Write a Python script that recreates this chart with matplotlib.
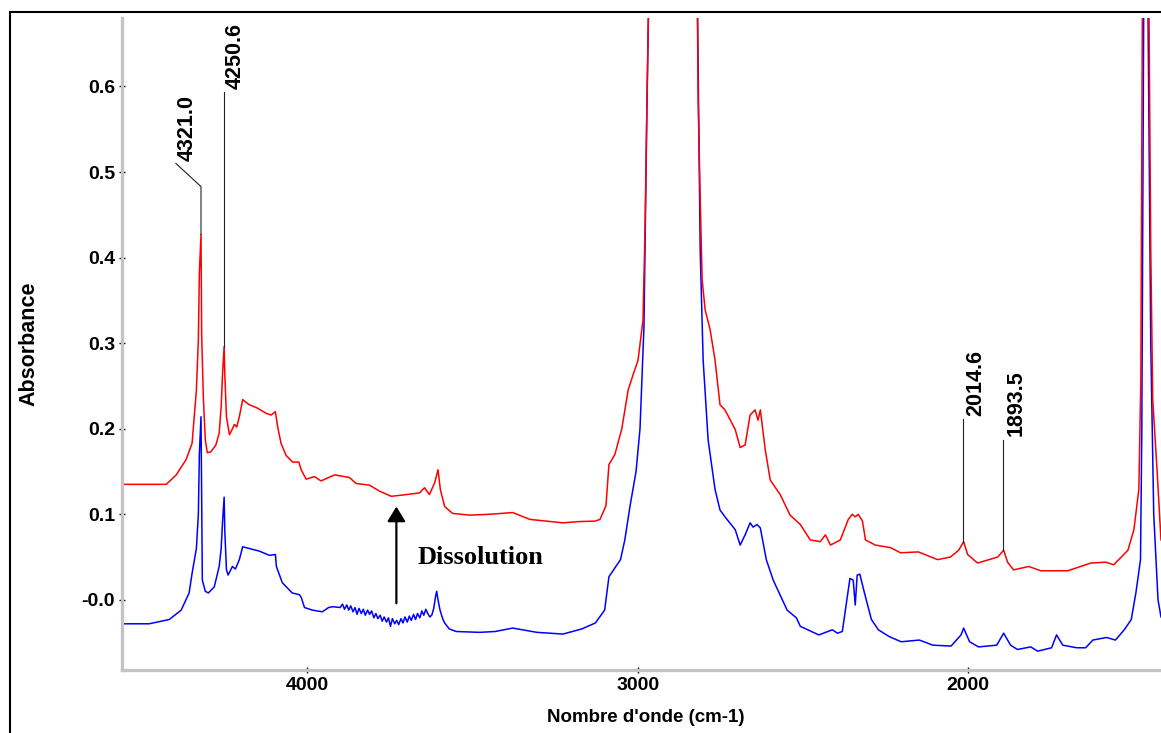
import matplotlib
matplotlib.use('Agg')
import matplotlib.pyplot as plt
from matplotlib.lines import Line2D
from matplotlib.ticker import FixedLocator, MultipleLocator, FixedFormatter

plt.rcParams['font.family'] = ['Liberation Sans', 'DejaVu Sans']
plt.rcParams['font.weight'] = 'bold'

# ---------------- data (wavenumber cm-1, absorbance) ----------------
red_wn = [4560, 4478, 4426, 4396, 4366, 4348, 4335, 4329, 4326, 4321,
          4319, 4314, 4308, 4302, 4291, 4276, 4266, 4260, 4256, 4251,
          4249, 4244, 4235, 4227, 4220, 4213, 4205, 4195, 4175, 4150,
          4124, 4109, 4096, 4089, 4079, 4064, 4044, 4025, 4018, 4003,
          3978, 3958, 3917, 3872, 3852, 3811, 3781, 3745, 3700, 3660,
          3645, 3630, 3614, 3604, 3597, 3584, 3560, 3508, 3448, 3378,
          3326, 3226, 3175, 3129, 3114, 3096, 3087, 3069, 3048, 3029,
          3014, 2999, 2984, 2978, 2972, 2966, 2950, 2900, 2860, 2830,
          2820, 2817, 2811, 2805, 2796, 2781, 2766, 2751, 2736, 2705,
          2690, 2675, 2660, 2645, 2636, 2629, 2614, 2599, 2569, 2539,
          2508, 2478, 2448, 2432, 2417, 2387, 2363, 2351, 2342, 2333,
          2320, 2311, 2281, 2235, 2205, 2151, 2093, 2054, 2029, 2014,
          2002, 1972, 1911, 1893, 1881, 1863, 1817, 1781, 1699, 1629,
          1584, 1560, 1517, 1499, 1484, 1478, 1473, 1465, 1454, 1448,
          1442, 1429, 1417]
red_abs = [0.135, 0.135, 0.135, 0.146, 0.164, 0.183, 0.245, 0.304, 0.382, 0.427,
           0.31, 0.237, 0.187, 0.172, 0.173, 0.181, 0.195, 0.226, 0.263, 0.296,
           0.263, 0.214, 0.193, 0.199, 0.205, 0.202, 0.214, 0.234, 0.228, 0.224,
           0.218, 0.216, 0.22, 0.202, 0.183, 0.169, 0.161, 0.161, 0.152, 0.141,
           0.144, 0.139, 0.146, 0.143, 0.136, 0.134, 0.127, 0.121, 0.123, 0.125,
           0.131, 0.123, 0.137, 0.152, 0.129, 0.109, 0.101, 0.099, 0.1, 0.102,
           0.094, 0.09, 0.0915, 0.092, 0.094, 0.11, 0.158, 0.17, 0.2, 0.245,
           0.263, 0.28, 0.327, 0.43, 0.58, 0.72, 1.0, 1.2, 1.1, 0.9,
           0.72, 0.58, 0.47, 0.374, 0.339, 0.316, 0.28, 0.228, 0.222, 0.199,
           0.178, 0.181, 0.216, 0.222, 0.21, 0.222, 0.175, 0.14, 0.123, 0.099,
           0.088, 0.07, 0.068, 0.076, 0.064, 0.07, 0.094, 0.1, 0.097, 0.1,
           0.092, 0.07, 0.064, 0.061, 0.055, 0.056, 0.047, 0.05, 0.058, 0.068,
           0.053, 0.043, 0.05, 0.058, 0.044, 0.035, 0.039, 0.034, 0.034, 0.043,
           0.044, 0.041, 0.058, 0.082, 0.129, 0.257, 0.72, 1.0, 0.72, 0.41,
           0.234, 0.152, 0.07]

blue_wn = [4560, 4478, 4417, 4381, 4357, 4348, 4335, 4329, 4326, 4321,
           4319, 4317, 4308, 4299, 4281, 4266, 4260, 4256, 4251, 4249,
           4244, 4239, 4226, 4217, 4205, 4195, 4175, 4145, 4114, 4096,
           4093, 4075, 4045, 4023, 4017, 4008, 3984, 3954, 3935, 3923,
           3900, 3893, 3887, 3880, 3874, 3868, 3861, 3855, 3849, 3843,
           3836, 3830, 3824, 3817, 3811, 3805, 3798, 3792, 3786, 3779,
           3773, 3767, 3760, 3754, 3748, 3742, 3735, 3729, 3723, 3716,
           3710, 3704, 3697, 3691, 3685, 3678, 3672, 3666, 3659, 3653,
           3647, 3641, 3635, 3629, 3623, 3617, 3611, 3608, 3604, 3598,
           3590, 3584, 3570, 3549, 3478, 3431, 3378, 3305, 3226, 3169,
           3128, 3100, 3087, 3066, 3052, 3039, 3023, 3005, 2993, 2981,
           2972, 2966, 2950, 2900, 2860, 2830, 2820, 2811, 2802, 2787,
           2766, 2751, 2736, 2705, 2690, 2675, 2660, 2651, 2639, 2629,
           2611, 2590, 2548, 2520, 2508, 2452, 2411, 2396, 2381, 2358,
           2348, 2342, 2336, 2328, 2314, 2293, 2272, 2239, 2203, 2148,
           2107, 2052, 2022, 2014, 1996, 1969, 1914, 1893, 1872, 1851,
           1811, 1790, 1748, 1733, 1714, 1672, 1645, 1623, 1582, 1555,
           1528, 1507, 1493, 1479, 1475, 1469, 1460, 1457, 1448, 1439,
           1426, 1417]
blue_abs = [-0.028, -0.028, -0.023, -0.012, 0.008, 0.031, 0.06, 0.1, 0.17, 0.214,
            0.12, 0.023, 0.01, 0.008, 0.015, 0.039, 0.06, 0.09, 0.12, 0.08,
            0.035, 0.029, 0.039, 0.036, 0.047, 0.062, 0.06, 0.057, 0.052, 0.053,
            0.039, 0.02, 0.008, 0.006, 0.002, -0.009, -0.012, -0.014, -0.009, -0.008,
            -0.009, -0.005, -0.011, -0.006, -0.012, -0.007, -0.014, -0.009, -0.017, -0.01,
            -0.016, -0.011, -0.018, -0.012, -0.017, -0.013, -0.021, -0.016, -0.022, -0.018,
            -0.025, -0.02, -0.026, -0.021, -0.031, -0.022, -0.028, -0.024, -0.029, -0.022,
            -0.027, -0.02, -0.026, -0.019, -0.024, -0.017, -0.023, -0.016, -0.021, -0.013,
            -0.018, -0.011, -0.016, -0.02, -0.018, -0.01, 0.005, 0.01, 0.0, -0.012,
            -0.022, -0.027, -0.034, -0.037, -0.038, -0.037, -0.033, -0.038, -0.04, -0.034,
            -0.027, -0.012, 0.027, 0.039, 0.047, 0.07, 0.11, 0.15, 0.2, 0.32,
            0.58, 0.72, 1.0, 1.2, 1.1, 0.9, 0.72, 0.41, 0.28, 0.187,
            0.129, 0.105, 0.097, 0.082, 0.064, 0.076, 0.09, 0.085, 0.088, 0.084,
            0.047, 0.023, -0.012, -0.021, -0.031, -0.041, -0.035, -0.039, -0.037, 0.025,
            0.023, -0.006, 0.029, 0.03, 0.008, -0.023, -0.035, -0.043, -0.049, -0.047,
            -0.053, -0.054, -0.041, -0.033, -0.049, -0.055, -0.053, -0.039, -0.053, -0.058,
            -0.055, -0.06, -0.056, -0.041, -0.053, -0.056, -0.056, -0.047, -0.044, -0.047,
            -0.035, -0.023, 0.008, 0.047, 0.2, 0.72, 1.0, 0.72, 0.3, 0.1,
            0.0, -0.02]

x_major = [4000, 3000, 2000]
x_labels = ['4000', '3000', '2000']
y_major = [0.0, 0.1, 0.2, 0.3, 0.4, 0.5, 0.6]
y_labels = ['-0.0', '0.1', '0.2', '0.3', '0.4', '0.5', '0.6']

peak_labels = ['4321.0', '4250.6', '2014.6', '1893.5']
peak_wn = [4321.0, 4250.6, 2014.6, 1893.5]
peak_abs = [0.427, 0.296, 0.068, 0.058]
leader_top = [0.483, 0.593, 0.211, 0.187]
label_wn = [4363, 4217, 1977, 1854]
label_base = [0.513, 0.597, 0.215, 0.192]
bend_end = (4397, 0.510)   # diagonal end of the 4321.0 leader

arrow_wn = 3730
arrow_from, arrow_to = -0.004, 0.109
text_note = 'Dissolution'

# ---------------- figure ----------------
W, H = 1161, 733
fig = plt.figure(figsize=(W / 100, H / 100), dpi=100)
ax = fig.add_axes([122 / W, 63 / H, 1 - 122 / W, (670 - 18) / H])

ax.plot(blue_wn, blue_abs, color='#0000ff', lw=1.1, zorder=2)
ax.plot(red_wn, red_abs, color='#ff0000', lw=1.1, zorder=2.1)

ax.set_xlim(4560, 1417)
ax.set_ylim(-0.082, 0.68)

for s in ['top', 'right']:
    ax.spines[s].set_visible(False)
for s in ['left', 'bottom']:
    ax.spines[s].set_color('#c4c4c4')
    ax.spines[s].set_linewidth(2.4)

ax.xaxis.set_major_locator(FixedLocator(x_major))
ax.xaxis.set_major_formatter(FixedFormatter(x_labels))
ax.xaxis.set_minor_locator(MultipleLocator(200))
ax.yaxis.set_major_locator(FixedLocator(y_major))
ax.yaxis.set_major_formatter(FixedFormatter(y_labels))
ax.yaxis.set_minor_locator(MultipleLocator(0.025))

ax.tick_params(axis='both', which='major', direction='inout', length=4,
               width=1.0, color='black', labelsize=14)
ax.tick_params(axis='both', which='minor', direction='inout', length=1.6,
               width=1.3, color='black')
ax.tick_params(axis='x', which='major', pad=3)
ax.tick_params(axis='y', which='major', pad=3)
for lab in ax.get_xticklabels() + ax.get_yticklabels():
    lab.set_fontweight('bold')

ax.set_ylabel('Absorbance', fontsize=15.5, fontweight='bold')
ax.yaxis.set_label_coords((39 - 122) / (W - 122), 0.5)
ax.set_xlabel("Nombre d'onde (cm-1)", fontsize=13.5, fontweight='bold')
ax.xaxis.set_label_coords((646 - 122) / (W - 122), -(709 - 670) / (670 - 18))

# peak labels with leader lines
for i, (lab, pw, pa, lt, lw_, lb) in enumerate(zip(peak_labels, peak_wn, peak_abs,
                                                    leader_top, label_wn, label_base)):
    if i == 0:
        ax.plot([pw, pw, bend_end[0]], [pa, lt, bend_end[1]], color='#222222', lw=0.8,
                zorder=3)
    else:
        ax.plot([pw, pw], [pa, lt], color='#222222', lw=0.8, zorder=3)
    ax.text(lw_, lb, lab, rotation=90, ha='center', va='bottom', fontsize=15.5,
            fontweight='bold', color='black')

# Dissolution arrow + text
ax.annotate('', xy=(arrow_wn, arrow_to), xytext=(arrow_wn, arrow_from),
            arrowprops=dict(arrowstyle='-|>,head_length=0.9,head_width=0.55',
                            color='black', lw=1.6, shrinkA=0, shrinkB=0,
                            mutation_scale=10))
ax.text(3666, 0.042, text_note, family=['Liberation Serif', 'DejaVu Serif'],
        fontweight='bold', fontsize=19, ha='left', va='baseline')

# outer frame (left and top edges visible)
fig.add_artist(Line2D([9.5 / W, 9.5 / W], [0, 1 - 12 / H], transform=fig.transFigure,
                      color='black', lw=1.5))
fig.add_artist(Line2D([9.5 / W, 1], [1 - 12 / H, 1 - 12 / H], transform=fig.transFigure,
                      color='black', lw=1.5))

fig.savefig('out.png', dpi=100)
